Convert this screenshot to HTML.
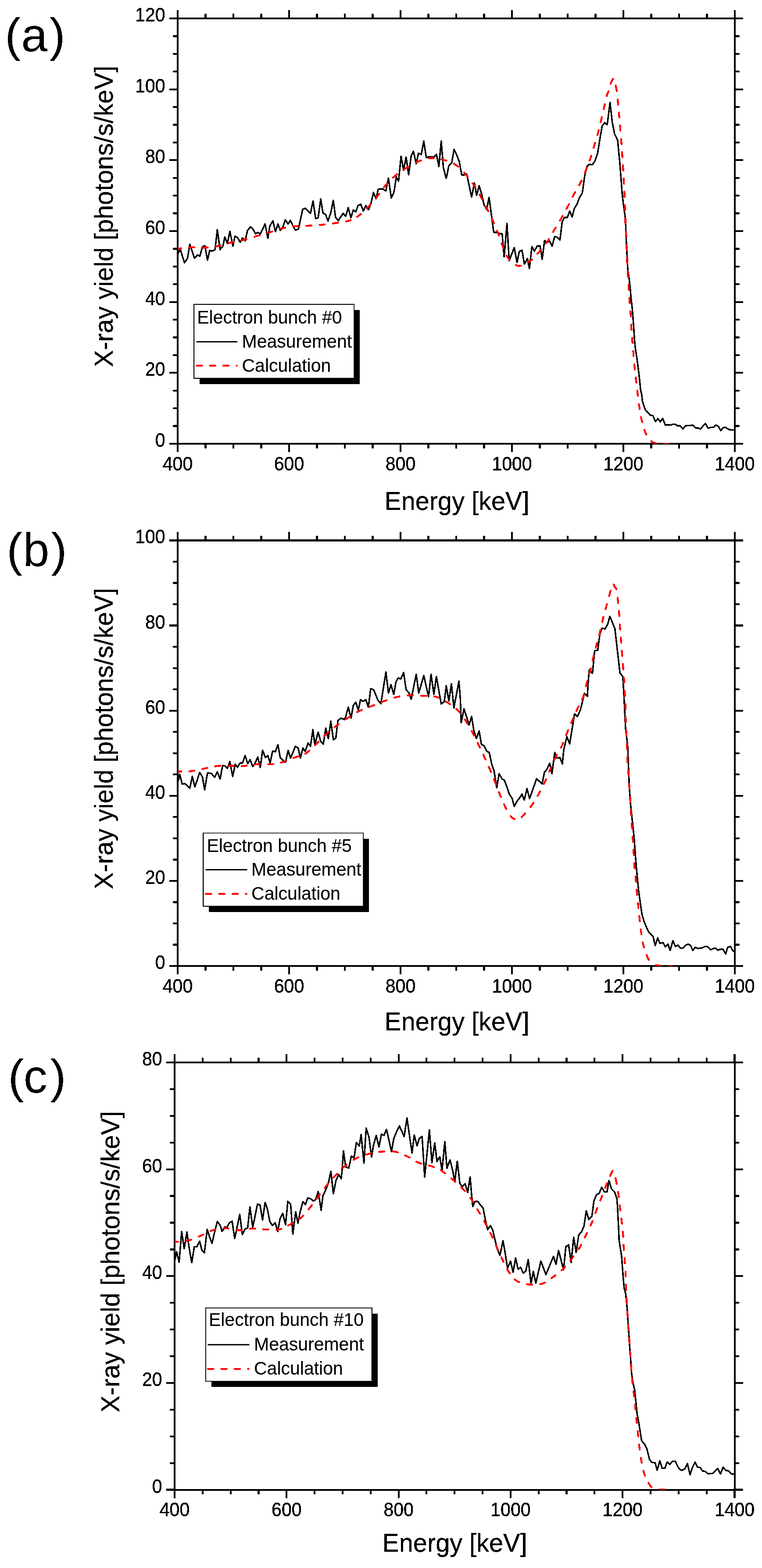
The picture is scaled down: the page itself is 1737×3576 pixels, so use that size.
<!DOCTYPE html>
<html><head><meta charset="utf-8"><title>X-ray yield spectra</title>
<style>html,body{margin:0;padding:0;background:#fff;}svg{display:block;}</style></head>
<body><svg width="1737" height="3576" viewBox="0 0 1737 3576">
<defs><filter id="bin" x="0" y="0" width="1737" height="3576" filterUnits="userSpaceOnUse"><feComponentTransfer><feFuncA type="discrete" tableValues="0 1"/></feComponentTransfer></filter></defs>
<rect width="1737" height="3576" fill="#fff"/>
<g filter="url(#bin)">
<path d="M405.0 1012.0v19M405.0 42.0v-19M468.5 1012.0v10.5M468.5 42.0v-10.5M532.0 1012.0v10.5M532.0 42.0v-10.5M595.5 1012.0v10.5M595.5 42.0v-10.5M659.0 1012.0v19M659.0 42.0v-19M722.5 1012.0v10.5M722.5 42.0v-10.5M786.0 1012.0v10.5M786.0 42.0v-10.5M849.5 1012.0v10.5M849.5 42.0v-10.5M913.0 1012.0v19M913.0 42.0v-19M976.5 1012.0v10.5M976.5 42.0v-10.5M1040.0 1012.0v10.5M1040.0 42.0v-10.5M1103.5 1012.0v10.5M1103.5 42.0v-10.5M1167.0 1012.0v19M1167.0 42.0v-19M1230.5 1012.0v10.5M1230.5 42.0v-10.5M1294.0 1012.0v10.5M1294.0 42.0v-10.5M1357.5 1012.0v10.5M1357.5 42.0v-10.5M1421.0 1012.0v19M1421.0 42.0v-19M1484.5 1012.0v10.5M1484.5 42.0v-10.5M1548.0 1012.0v10.5M1548.0 42.0v-10.5M1611.5 1012.0v10.5M1611.5 42.0v-10.5M1675.0 1012.0v19M1675.0 42.0v-19M405.0 1012.0h-19M1675.0 1012.0h19M405.0 971.6h-10.5M1675.0 971.6h10.5M405.0 931.2h-10.5M1675.0 931.2h10.5M405.0 890.8h-10.5M1675.0 890.8h10.5M405.0 850.3h-19M1675.0 850.3h19M405.0 809.9h-10.5M1675.0 809.9h10.5M405.0 769.5h-10.5M1675.0 769.5h10.5M405.0 729.1h-10.5M1675.0 729.1h10.5M405.0 688.7h-19M1675.0 688.7h19M405.0 648.2h-10.5M1675.0 648.2h10.5M405.0 607.8h-10.5M1675.0 607.8h10.5M405.0 567.4h-10.5M1675.0 567.4h10.5M405.0 527.0h-19M1675.0 527.0h19M405.0 486.6h-10.5M1675.0 486.6h10.5M405.0 446.2h-10.5M1675.0 446.2h10.5M405.0 405.8h-10.5M1675.0 405.8h10.5M405.0 365.3h-19M1675.0 365.3h19M405.0 324.9h-10.5M1675.0 324.9h10.5M405.0 284.5h-10.5M1675.0 284.5h10.5M405.0 244.1h-10.5M1675.0 244.1h10.5M405.0 203.7h-19M1675.0 203.7h19M405.0 163.2h-10.5M1675.0 163.2h10.5M405.0 122.8h-10.5M1675.0 122.8h10.5M405.0 82.4h-10.5M1675.0 82.4h10.5M405.0 42.0h-19M1675.0 42.0h19" stroke="#000" stroke-width="4" fill="none"/>
<rect x="405" y="42" width="1270" height="970" fill="none" stroke="#000" stroke-width="4"/>
<clipPath id="clipa"><rect x="405" y="42" width="1270" height="970"/></clipPath>
<g clip-path="url(#clipa)">
<polyline points="405.8,578.7 410.9,568.5 420.5,599.2 427.5,589.0 432.6,557.0 443.5,589.0 449.9,581.3 455.6,584.5 461.4,562.8 467.1,560.2 472.9,593.5 478.0,571.1 484.4,572.4 490.2,569.2 495.3,523.8 501.7,569.2 508.1,561.5 512.5,540.4 518.3,555.1 524.0,527.6 531.1,561.5 535.5,538.5 541.3,541.7 547.7,552.5 552.8,542.3 558.8,549.4 564.0,526.1 571.0,517.2 577.4,523.6 582.5,533.2 587.6,530.0 593.4,533.8 604.2,510.8 610.6,543.4 615.1,515.3 622.1,503.8 627.9,528.1 633.6,510.8 638.8,525.5 644.5,518.5 650.3,501.2 656.7,510.8 661.8,502.5 667.5,514.6 673.3,524.9 680.3,522.3 689.9,477.5 696.3,475.0 702.1,481.4 707.8,486.5 713.6,458.2 719.6,498.5 725.3,496.6 731.1,453.8 736.2,485.7 742.6,489.6 747.7,504.3 754.1,485.1 759.6,457.0 765.0,496.0 771.1,503.0 782.3,486.4 788.0,493.4 793.8,473.6 799.9,496.6 805.3,478.7 811.0,483.2 816.1,468.5 822.5,465.9 828.3,481.3 834.0,469.1 839.8,478.7 845.5,464.6 851.3,439.1 857.1,453.1 862.2,431.4 871.4,430.4 879.7,435.5 885.5,406.1 891.9,451.5 898.2,438.1 903.4,403.6 908.5,413.2 914.2,356.3 920.0,388.2 925.7,358.2 931.5,398.5 937.3,355.6 942.4,344.8 948.8,373.5 953.9,349.2 960.3,352.4 966.0,321.7 971.8,359.5 977.5,357.5 983.9,357.5 989.0,358.2 994.8,351.8 1000.5,379.9 1005.7,321.7 1010.8,383.1 1017.2,406.8 1023.2,378.0 1029.6,371.6 1035.0,341.0 1041.0,353.0 1047.0,369.0 1052.5,399.0 1058.4,399.0 1063.5,396.4 1065.4,404.1 1075.0,449.5 1081.4,417.5 1086.5,445.7 1092.3,423.3 1098.0,443.1 1103.1,466.1 1109.5,477.6 1114.9,450.2 1120.4,491.7 1125.5,530.1 1131.3,530.1 1138.9,532.6 1144.7,533.3 1149.2,585.7 1155.6,509.6 1160.7,594.6 1172.2,564.6 1178.6,598.5 1183.7,573.5 1190.1,571.0 1195.2,602.3 1202.3,589.5 1206.7,612.5 1212.5,562.7 1218.2,572.9 1224.6,560.7 1231.0,560.7 1235.9,591.4 1241.3,548.6 1246.4,552.4 1252.8,549.9 1258.5,561.4 1264.3,539.6 1270.0,540.9 1276.4,547.3 1281.5,506.4 1287.0,495.4 1293.4,496.0 1298.5,481.3 1304.3,494.8 1309.4,474.9 1315.2,466.0 1320.9,450.6 1327.3,440.4 1329.2,427.0 1333.1,399.5 1338.2,379.0 1343.9,374.6 1350.3,375.8 1356.1,367.5 1362.5,348.3 1368.2,312.5 1372.7,287.0 1378.5,279.9 1384.2,284.4 1390.6,233.2 1395.7,279.3 1400.8,304.9 1407.9,319.6 1413.0,372.6 1415.5,404.6 1418.1,440.4 1421.3,468.5 1426.0,500.0 1426.5,525.6 1428.2,559.8 1429.5,585.4 1430.7,611.0 1434.2,636.6 1436.7,658.0 1438.4,679.3 1441.0,700.7 1444.3,742.7 1446.5,776.9 1448.2,793.9 1451.6,815.3 1455.0,840.9 1457.6,862.3 1460.1,887.9 1462.8,900.0 1464.4,914.7 1470.5,933.9 1479.4,943.5 1482.0,946.7 1488.4,948.0 1494.1,961.7 1499.9,954.3 1505.0,962.0 1510.7,954.3 1516.8,969.6 1522.4,968.8 1528.8,969.6 1534.4,967.2 1540.0,968.0 1544.7,971.2 1550.3,970.8 1556.7,978.4 1562.3,971.2 1567.1,970.4 1572.7,970.4 1579.1,969.6 1585.5,976.0 1591.9,976.3 1596.7,978.4 1603.1,971.2 1607.9,965.6 1614.3,976.8 1620.7,974.4 1626.3,974.4 1631.9,969.6 1637.5,972.0 1643.1,982.4 1647.9,975.6 1653.5,974.4 1661.5,979.5 1667.8,980.8 1673.4,980.4" fill="none" stroke="#000" stroke-width="3.5" stroke-linejoin="round"/>
<path d="M405.8 567.2L409.2 566.8L412.9 566.3M431.3 564.2L431.5 564.1L437.1 563.8L442.3 563.7L443.1 563.8M461.8 564.7L462.7 564.7L467.8 564.7L472.8 564.4L473.5 564.3M491.6 562.2L492.3 562.1L497.2 561.2L502.1 560.1L503.1 559.8M520.9 554.7L521.8 554.4L526.6 553.2L531.3 552.1L532.6 551.9M550.7 548.4L554.7 547.4L559.7 546.1L562.3 545.3M580.0 540.0L580.6 539.8L585.7 538.3L590.6 536.8L591.6 536.6M609.3 531.4L610.0 531.2L614.8 529.7L619.8 528.2L620.8 527.8M638.8 521.9L639.6 521.7L644.5 520.4L649.5 519.3L650.2 519.2M668.5 516.5L669.2 516.4L674.2 515.9L679.2 515.5L680.2 515.5M698.5 514.9L699.3 514.8L704.4 514.6L709.4 514.4L710.2 514.3M728.7 513.1L729.3 513.0L734.3 512.6L739.3 512.1L740.4 511.9M759.0 509.6L759.7 509.5L764.7 508.7L769.8 508.0L770.6 507.9M788.9 505.1L789.8 504.9L794.4 503.6L798.7 502.1L799.4 501.9M813.9 494.6L814.3 494.3L818.1 491.7L821.9 488.8L822.9 487.9M836.5 474.9L836.8 474.5L840.4 470.8L844.0 467.0L844.7 466.2M856.9 451.6L857.4 451.0L860.6 447.0L863.7 442.9L864.3 442.2M875.2 427.2L875.6 426.6L878.8 422.8L882.1 419.0L882.8 418.3M895.8 405.1L896.3 404.6L900.2 401.3L904.2 398.1L905.0 397.4M920.8 386.5L921.3 386.2L925.7 383.4L930.3 380.6L931.2 380.0M948.2 370.5L949.1 370.1L953.9 368.0L958.7 366.2L959.6 365.9M977.6 361.0L978.4 360.8L983.3 360.4L988.1 360.3L989.1 360.4M1006.5 363.4L1007.1 363.5L1011.8 364.8L1016.5 366.2L1017.6 366.6M1034.5 373.4L1035.1 373.8L1039.4 376.4L1043.5 379.4L1044.4 380.1M1058.0 393.7L1058.5 394.2L1061.9 398.1L1065.3 402.0L1065.9 402.7M1077.4 417.9L1077.9 418.4L1080.7 422.7L1083.5 426.9L1084.0 427.6M1093.3 443.9L1093.6 444.4L1096.1 448.9L1098.5 453.4L1099.0 454.2M1107.5 470.9L1107.9 471.6L1110.2 476.1L1112.5 480.7L1112.9 481.6M1121.1 498.2L1121.5 498.9L1123.6 503.5L1125.6 508.1L1126.0 509.1M1133.0 526.2L1133.3 526.9L1135.1 531.6L1136.8 536.4L1137.2 537.2M1143.3 554.7L1143.5 555.4L1145.3 560.1L1147.1 564.8L1147.4 565.7M1154.4 582.8L1154.8 583.5L1157.5 587.6L1160.8 591.6L1161.5 592.4M1175.8 604.4L1177.1 605.1L1181.4 606.4L1185.7 606.4L1187.2 606.0M1203.3 598.4L1203.9 598.0L1208.0 595.3L1211.9 592.4L1212.6 591.7M1225.3 578.5L1225.8 577.9L1229.1 574.2L1232.4 570.4L1233.0 569.7M1244.5 555.2L1245.0 554.6L1247.9 550.5L1250.7 546.2L1251.3 545.3M1260.7 529.1L1261.2 528.2L1263.6 524.0L1266.0 520.2L1266.8 518.8M1276.4 503.0L1277.1 501.9L1279.7 497.2L1282.4 492.5M1291.3 476.3L1291.4 476.1L1294.1 471.1L1296.6 466.3L1296.9 465.7M1305.4 448.7L1305.8 448.1L1308.1 443.6L1310.6 439.2L1311.0 438.4M1320.2 422.4L1320.5 421.9L1322.8 417.4L1325.1 412.6L1325.6 411.6M1333.3 393.7L1333.7 392.8L1335.6 388.0L1337.5 383.4L1337.8 382.6M1344.1 366.2L1344.3 365.7L1345.9 361.1L1347.4 356.4L1347.7 355.4M1353.1 337.4L1353.4 336.6L1354.8 331.7L1356.3 326.8L1356.6 325.9M1361.8 307.9L1362.0 307.2L1363.4 302.3L1364.7 297.4L1364.9 296.6M1369.2 278.6L1369.4 277.8L1370.5 272.9L1371.7 267.9L1371.9 267.1M1376.1 249.1L1376.4 248.1L1377.4 243.5L1378.5 239.0L1378.7 237.7M1382.9 219.4L1383.0 219.0L1383.8 216.4L1384.4 214.5L1385.1 213.0L1385.7 211.5L1386.3 210.0L1386.9 208.3M1391.8 191.0L1392.2 190.2L1392.8 188.6L1393.4 187.2L1393.9 186.1L1394.5 185.0L1395.0 184.0L1395.5 183.1L1395.9 182.3L1396.3 181.6L1396.7 181.1L1397.1 180.5L1397.5 180.0L1397.5 180.0M1403.5 195.0L1403.9 197.1L1404.3 199.1L1404.8 201.2L1405.2 203.3L1405.6 205.6L1406.0 207.8M1408.0 227.0L1408.1 227.5L1408.3 229.9L1408.5 232.2L1408.8 234.6L1409.0 237.1L1409.2 238.6M1410.8 256.6L1410.9 257.8L1411.3 262.0L1411.7 266.6L1411.8 268.0M1413.4 286.5L1413.5 287.2L1413.9 292.3L1414.3 297.3L1414.4 298.4M1415.8 316.9L1415.8 317.5L1416.2 322.5L1416.6 327.5L1416.7 328.6M1418.0 346.8L1418.1 347.4L1418.4 352.4L1418.7 357.5L1418.8 358.5M1420.0 377.0L1420.0 377.8L1420.3 382.9L1420.6 387.9L1420.6 388.9M1421.6 407.2L1421.6 407.9L1421.9 412.9L1422.2 417.6L1422.2 418.9M1423.3 437.1L1423.5 443.0L1423.7 448.9M1424.3 467.6L1424.4 473.0L1424.6 479.1M1425.2 497.3L1425.4 503.1L1425.7 509.3M1426.9 528.0L1427.0 529.2L1427.3 534.0L1427.6 539.2L1427.6 540.3M1428.4 559.0L1428.4 559.9L1428.6 565.0L1428.8 570.1L1428.8 571.0M1429.3 589.2L1429.3 590.0L1429.5 595.0L1429.7 600.0L1429.8 601.0M1430.8 619.2L1430.9 620.0L1431.2 625.0L1431.5 630.0L1431.6 630.9M1432.9 649.4L1433.0 650.0L1433.3 655.0L1433.6 660.1L1433.6 660.9M1434.6 679.3L1434.7 680.4L1435.0 685.0L1435.3 689.1L1435.5 691.0M1437.2 709.7L1437.4 714.0L1437.8 720.3L1437.9 721.7M1438.9 740.4L1439.2 746.1L1439.5 751.5L1439.6 752.4M1440.9 770.6L1440.9 771.1L1441.3 776.0L1441.7 781.0L1441.8 782.3M1443.4 800.5L1443.5 800.9L1443.9 805.9L1444.3 811.0L1444.4 812.5M1446.0 830.9L1446.0 831.5L1446.5 836.6L1447.0 841.6L1447.2 842.8M1449.3 861.0L1449.3 861.5L1449.9 866.5L1450.5 871.5L1450.6 872.6M1452.7 891.0L1452.7 891.4L1453.3 896.4L1453.9 901.5L1454.1 902.9M1456.5 921.8L1456.6 921.9L1457.3 927.0L1458.1 932.0L1458.3 933.4M1461.3 951.4L1461.4 952.1L1462.5 957.0L1463.7 962.0L1463.8 962.6M1468.9 980.4L1469.4 981.8L1471.0 986.0L1472.7 989.8L1473.4 991.2M1484.5 1006.2L1486.1 1007.4L1488.2 1008.6L1490.4 1009.5L1492.7 1010.3L1495.0 1011.0L1495.1 1011.0M1513.5 1012.1L1516.7 1012.1L1520.4 1012.1L1523.9 1012.0L1525.3 1012.0" fill="none" stroke="#f00" stroke-width="4.3" stroke-linecap="round" stroke-linejoin="round"/>
</g>
<g font-size="41" stroke="#000" stroke-width="0.4" font-family="'Liberation Sans', Arial, sans-serif"><text transform="translate(405.0,1072.6) scale(1,1.07)" text-anchor="middle">400</text><text transform="translate(659.0,1072.6) scale(1,1.07)" text-anchor="middle">600</text><text transform="translate(913.0,1072.6) scale(1,1.07)" text-anchor="middle">800</text><text transform="translate(1167.0,1072.6) scale(1,1.07)" text-anchor="middle">1000</text><text transform="translate(1421.0,1072.6) scale(1,1.07)" text-anchor="middle">1200</text><text transform="translate(1675.0,1072.6) scale(1,1.07)" text-anchor="middle">1400</text><text transform="translate(376.6,1019.0) scale(1,1.07)" text-anchor="end">0</text><text transform="translate(376.6,857.3) scale(1,1.07)" text-anchor="end">20</text><text transform="translate(376.6,695.7) scale(1,1.07)" text-anchor="end">40</text><text transform="translate(376.6,534.0) scale(1,1.07)" text-anchor="end">60</text><text transform="translate(376.6,372.3) scale(1,1.07)" text-anchor="end">80</text><text transform="translate(376.6,210.7) scale(1,1.07)" text-anchor="end">100</text><text transform="translate(376.6,49.0) scale(1,1.07)" text-anchor="end">120</text></g>
<text transform="translate(257.1,837.0) rotate(-90) scale(1,1.03)" font-size="57.8" stroke="#000" stroke-width="0.3" font-family="'Liberation Sans', Arial, sans-serif">X-ray yield [photons/s/keV]</text>
<text transform="translate(876.2,1162.9) scale(1,1.03)" font-size="57.7" stroke="#000" stroke-width="0.3" font-family="'Liberation Sans', Arial, sans-serif">Energy [keV]</text>
<g font-size="108" font-family="'Liberation Sans', Arial, sans-serif"><text x="11.2" y="117.3">(</text><text x="48.2" y="117.3">a</text><text x="112.7" y="117.3">)</text></g>
<rect x="455.2" y="707.2" width="365.1" height="168.5" fill="#000"/>
<rect x="442.2" y="694.2" width="365.1" height="168.5" fill="#fff" stroke="#000" stroke-width="2"/>
<g font-size="41" stroke="#000" stroke-width="0.15" font-family="'Liberation Sans', Arial, sans-serif"><text transform="translate(449.2,738.0) scale(1,1.03)">Electron bunch #0</text><text transform="translate(551.5,793.0) scale(1,1.03)">Measurement</text><text transform="translate(551.5,848.3) scale(1,1.03)">Calculation</text></g>
<path d="M447.6 779.5H541.3" stroke="#000" stroke-width="3"/>
<path d="M448.2 833.9H539.6" stroke="#f00" stroke-width="4.3" stroke-linecap="round" stroke-dasharray="12.4 18"/>
<path d="M405.0 2203.0v19M405.0 1232.5v-19M468.5 2203.0v10.5M468.5 1232.5v-10.5M532.0 2203.0v10.5M532.0 1232.5v-10.5M595.5 2203.0v10.5M595.5 1232.5v-10.5M659.0 2203.0v19M659.0 1232.5v-19M722.5 2203.0v10.5M722.5 1232.5v-10.5M786.0 2203.0v10.5M786.0 1232.5v-10.5M849.5 2203.0v10.5M849.5 1232.5v-10.5M913.0 2203.0v19M913.0 1232.5v-19M976.5 2203.0v10.5M976.5 1232.5v-10.5M1040.0 2203.0v10.5M1040.0 1232.5v-10.5M1103.5 2203.0v10.5M1103.5 1232.5v-10.5M1167.0 2203.0v19M1167.0 1232.5v-19M1230.5 2203.0v10.5M1230.5 1232.5v-10.5M1294.0 2203.0v10.5M1294.0 1232.5v-10.5M1357.5 2203.0v10.5M1357.5 1232.5v-10.5M1421.0 2203.0v19M1421.0 1232.5v-19M1484.5 2203.0v10.5M1484.5 1232.5v-10.5M1548.0 2203.0v10.5M1548.0 1232.5v-10.5M1611.5 2203.0v10.5M1611.5 1232.5v-10.5M1675.0 2203.0v19M1675.0 1232.5v-19M405.0 2203.0h-19M1675.0 2203.0h19M405.0 2154.5h-10.5M1675.0 2154.5h10.5M405.0 2105.9h-10.5M1675.0 2105.9h10.5M405.0 2057.4h-10.5M1675.0 2057.4h10.5M405.0 2008.9h-19M1675.0 2008.9h19M405.0 1960.4h-10.5M1675.0 1960.4h10.5M405.0 1911.8h-10.5M1675.0 1911.8h10.5M405.0 1863.3h-10.5M1675.0 1863.3h10.5M405.0 1814.8h-19M1675.0 1814.8h19M405.0 1766.3h-10.5M1675.0 1766.3h10.5M405.0 1717.8h-10.5M1675.0 1717.8h10.5M405.0 1669.2h-10.5M1675.0 1669.2h10.5M405.0 1620.7h-19M1675.0 1620.7h19M405.0 1572.2h-10.5M1675.0 1572.2h10.5M405.0 1523.7h-10.5M1675.0 1523.7h10.5M405.0 1475.1h-10.5M1675.0 1475.1h10.5M405.0 1426.6h-19M1675.0 1426.6h19M405.0 1378.1h-10.5M1675.0 1378.1h10.5M405.0 1329.5h-10.5M1675.0 1329.5h10.5M405.0 1281.0h-10.5M1675.0 1281.0h10.5M405.0 1232.5h-19M1675.0 1232.5h19" stroke="#000" stroke-width="4" fill="none"/>
<rect x="405" y="1232.5" width="1270" height="970.5" fill="none" stroke="#000" stroke-width="4"/>
<clipPath id="clipb"><rect x="405" y="1232.5" width="1270" height="970.5"/></clipPath>
<g clip-path="url(#clipb)">
<polyline points="406.0,1781.8 409.6,1765.9 415.3,1788.2 420.5,1787.0 425.6,1790.2 432.6,1797.8 438.4,1770.3 444.1,1794.6 449.9,1778.0 455.0,1761.4 461.4,1771.6 466.5,1801.7 472.9,1762.7 481.8,1763.9 489.5,1772.9 495.3,1760.1 501.7,1776.7 507.4,1746.0 512.5,1746.7 518.3,1752.4 524.0,1737.1 530.4,1771.0 536.2,1742.8 541.3,1749.9 547.1,1740.3 552.8,1740.3 558.8,1723.1 564.6,1741.7 570.3,1732.7 576.1,1748.1 581.2,1741.0 587.6,1726.3 593.4,1750.0 598.5,1711.0 604.9,1727.6 610.6,1723.1 615.7,1739.7 621.5,1712.9 627.9,1714.2 633.6,1698.2 638.8,1728.2 645.2,1734.6 650.9,1738.5 656.7,1711.6 662.4,1728.9 673.3,1702.0 679.7,1705.9 684.8,1728.9 690.5,1705.9 695.7,1713.5 702.1,1694.3 707.8,1702.0 713.2,1664.0 717.7,1698.6 725.3,1669.8 731.1,1690.9 736.9,1697.3 742.6,1660.8 748.4,1684.5 754.1,1644.9 759.9,1687.1 765.6,1683.2 770.1,1643.6 777.1,1637.8 785.4,1641.0 788.0,1634.6 793.8,1612.9 800.2,1637.8 805.3,1609.1 811.0,1601.4 816.8,1619.3 821.9,1595.6 827.6,1599.5 834.0,1595.6 839.8,1612.9 844.9,1570.7 851.9,1573.2 861.5,1596.9 868.2,1604.9 879.7,1532.6 885.5,1580.6 891.2,1561.4 897.6,1583.8 902.7,1555.0 907.8,1546.0 913.6,1548.6 920.0,1533.9 925.7,1572.9 932.1,1579.9 937.3,1594.6 948.8,1537.7 954.5,1580.6 966.0,1540.9 976.9,1588.9 982.6,1537.7 989.0,1583.1 994.8,1542.8 1005.7,1605.5 1012.7,1600.4 1017.2,1563.9 1023.2,1598.8 1029.0,1559.2 1034.7,1614.2 1046.2,1553.4 1049.4,1595.0 1051.3,1648.1 1057.7,1616.7 1063.5,1634.6 1069.2,1653.2 1075.0,1633.4 1080.1,1666.0 1085.9,1684.5 1092.3,1667.2 1097.4,1697.9 1103.8,1701.1 1109.5,1713.3 1115.3,1715.8 1121.0,1743.3 1126.1,1757.4 1132.4,1796.7 1137.6,1764.8 1144.8,1776.8 1149.6,1779.2 1156.0,1795.9 1160.8,1811.1 1167.1,1819.9 1172.3,1839.1 1177.5,1828.7 1183.9,1820.7 1189.9,1811.1 1195.1,1824.7 1201.3,1798.5 1207.1,1821.5 1223.1,1776.1 1235.9,1787.6 1241.0,1761.4 1246.7,1754.3 1253.1,1740.9 1258.2,1764.6 1264.6,1716.0 1269.1,1728.8 1276.1,1727.5 1281.9,1742.2 1285.1,1710.0 1292.2,1679.8 1298.6,1696.4 1306.3,1649.0 1309.5,1627.9 1315.9,1634.3 1322.9,1619.6 1332.5,1581.1 1338.9,1588.2 1341.5,1546.5 1343.4,1527.3 1350.5,1535.6 1355.6,1483.8 1362.6,1483.1 1367.1,1447.9 1372.2,1432.5 1379.3,1434.4 1385.0,1424.2 1390.2,1405.6 1401.7,1433.8 1413.2,1535.0 1419.6,1542.7 1422.2,1585.0 1426.0,1661.8 1430.7,1700.0 1432.8,1751.2 1434.5,1793.9 1437.1,1832.4 1441.3,1870.8 1445.6,1912.0 1449.2,1961.2 1452.2,1995.4 1455.6,2029.6 1459.0,2055.2 1463.3,2085.1 1468.4,2102.1 1474.4,2116.7 1479.6,2126.8 1488.5,2135.2 1493.6,2156.4 1499.2,2139.1 1504.2,2151.4 1511.5,2149.7 1516.5,2159.2 1522.7,2153.1 1527.7,2167.6 1533.9,2145.3 1539.5,2158.7 1545.6,2155.3 1551.2,2162.6 1556.8,2162.6 1563.5,2155.3 1568.5,2153.1 1574.1,2155.9 1579.2,2167.6 1584.8,2160.4 1591.0,2163.1 1601.1,2161.8 1607.3,2158.3 1613.4,2159.1 1620.0,2166.2 1625.7,2163.5 1631.0,2162.2 1636.7,2167.1 1642.0,2164.4 1648.2,2164.9 1654.3,2175.8 1658.7,2160.5 1665.3,2158.3 1670.6,2168.8 1673.2,2168.8" fill="none" stroke="#000" stroke-width="3.5" stroke-linejoin="round"/>
<path d="M405.8 1759.6L409.2 1759.5L413.0 1759.5M431.5 1758.9L431.8 1758.9L437.3 1758.4L442.4 1757.7L443.2 1757.6M461.3 1753.8L461.9 1753.7L466.8 1752.7L471.6 1751.7L472.5 1751.5M490.4 1747.7L491.2 1747.6L496.2 1746.9L501.1 1746.5L502.1 1746.5M520.6 1746.3L521.1 1746.3L526.0 1746.3L530.7 1746.4L532.3 1746.5M550.8 1747.2L554.1 1747.1L559.2 1746.6L562.5 1746.2M580.5 1743.5L581.0 1743.4L586.3 1742.9L591.6 1742.8L592.5 1742.8M611.3 1743.2L612.0 1743.2L617.0 1742.9L621.9 1742.5L622.7 1742.4M640.4 1739.2L641.0 1739.1L645.8 1737.8L650.6 1736.3L651.5 1736.0M668.8 1728.9L669.6 1728.6L674.2 1726.7L678.4 1725.3L679.6 1725.0M695.7 1719.1L700.1 1716.1L704.7 1712.3M718.0 1699.8L722.0 1695.9L726.3 1691.5M739.4 1678.4L743.5 1674.5L748.0 1670.5M762.7 1658.4L763.4 1657.7L767.3 1654.8L771.4 1651.8L772.3 1651.2M787.9 1640.4L788.6 1640.0L792.9 1637.2L797.2 1634.4L798.0 1633.9M813.8 1624.3L814.4 1623.9L819.0 1621.6L823.6 1619.4L824.6 1619.0M842.3 1612.2L843.1 1611.9L847.9 1610.1L852.5 1608.2L853.2 1607.9M870.2 1601.1L870.8 1600.8L875.5 1599.1L880.2 1597.4L881.2 1597.0M898.9 1591.0L899.7 1590.8L904.6 1589.5L909.6 1588.5L910.6 1588.3M929.2 1586.0L930.0 1586.0L935.1 1585.7L940.2 1585.6L941.2 1585.6M959.9 1586.6L960.7 1586.6L965.8 1587.0L970.8 1587.2L971.7 1587.2M989.6 1588.4L990.6 1588.5L995.2 1589.5L999.6 1591.0L1000.7 1591.4M1016.3 1599.9L1019.7 1602.0L1023.9 1604.7L1025.7 1606.0M1040.1 1616.8L1040.3 1617.0L1044.0 1620.6L1047.5 1624.4L1048.2 1625.2M1059.5 1640.8L1060.0 1641.5L1062.8 1645.9L1065.6 1650.2L1066.0 1650.9M1075.1 1667.0L1075.4 1667.5L1077.8 1672.0L1080.2 1676.5L1080.6 1677.4M1088.8 1694.3L1089.2 1695.0L1091.4 1699.6L1093.5 1704.0L1093.9 1704.8M1101.8 1721.3L1101.9 1721.5L1104.0 1726.0L1106.1 1730.7L1106.8 1732.2M1114.4 1749.3L1114.7 1750.0L1116.8 1754.8L1118.8 1759.5L1119.2 1760.4M1126.2 1777.5L1126.5 1778.3L1128.4 1783.0L1130.3 1787.8L1130.6 1788.6M1137.4 1806.4L1137.7 1807.2L1139.6 1812.0L1141.5 1816.7L1141.9 1817.5M1149.0 1834.3L1149.4 1835.3L1151.4 1839.5L1153.4 1843.5L1154.2 1845.1M1163.8 1861.5L1164.7 1862.5L1166.2 1864.1L1167.7 1865.2L1169.1 1866.1L1170.5 1866.8L1172.0 1867.5L1173.3 1868.1M1188.9 1863.8L1190.2 1862.5L1192.7 1860.0L1195.6 1856.9L1197.0 1855.3M1209.1 1840.6L1209.3 1840.3L1212.5 1836.0L1215.4 1831.8L1216.0 1830.8M1225.4 1815.2L1225.7 1814.7L1228.2 1810.3L1230.7 1805.8L1231.1 1804.9M1239.7 1788.2L1240.1 1787.4L1242.3 1782.8L1244.4 1778.2L1244.8 1777.4M1252.1 1760.4L1252.4 1759.6L1254.4 1755.0L1256.4 1750.3L1256.8 1749.3M1264.1 1732.3L1264.4 1731.6L1266.5 1727.2L1268.6 1723.1L1269.5 1721.6M1278.8 1705.1L1279.6 1703.5L1281.8 1698.5L1283.6 1694.1M1290.5 1676.4L1290.7 1676.0L1292.8 1670.8L1294.8 1666.0L1295.0 1665.5M1302.1 1649.0L1302.4 1648.4L1304.3 1643.9L1306.2 1639.3L1306.6 1638.4M1313.8 1621.6L1314.1 1621.0L1316.2 1616.4L1318.4 1611.9L1318.9 1611.0M1327.2 1594.8L1327.5 1594.2L1329.4 1589.5L1331.0 1584.7L1331.3 1583.5M1335.6 1565.0L1335.8 1564.4L1337.0 1559.4L1338.4 1554.5L1338.7 1553.4M1343.9 1535.7L1344.1 1535.1L1345.4 1530.2L1346.6 1525.3L1346.8 1524.3M1350.7 1506.2L1350.9 1505.7L1352.0 1500.8L1353.2 1496.0L1353.4 1495.0M1358.0 1477.4L1358.2 1476.7L1359.5 1471.9L1360.8 1467.0L1361.1 1466.0M1366.0 1448.2L1366.2 1447.4L1367.5 1442.5L1368.7 1437.5L1368.9 1436.6M1372.8 1418.5L1372.9 1417.6L1374.1 1412.7L1375.3 1407.8L1375.6 1406.8M1380.5 1389.0L1380.7 1388.4L1382.0 1383.5L1383.4 1378.5L1383.6 1377.6M1388.5 1359.5L1388.8 1358.5L1390.0 1354.0L1391.1 1349.4L1391.6 1347.4M1398.9 1332.9L1399.8 1334.9L1400.6 1336.9L1401.5 1338.5L1402.3 1339.6L1403.1 1340.4L1403.9 1341.3L1404.7 1342.3L1405.4 1343.8L1405.4 1344.0M1408.0 1363.3L1408.2 1365.1L1408.6 1369.4L1409.0 1373.7L1409.2 1375.2M1410.9 1393.4L1411.2 1397.0L1411.6 1402.2L1411.8 1405.3M1412.8 1423.8L1412.9 1424.3L1413.2 1429.7L1413.6 1434.9L1413.6 1435.8M1415.0 1454.0L1415.1 1454.8L1415.5 1459.8L1415.9 1464.8L1416.0 1465.7M1417.5 1484.1L1417.6 1484.9L1418.0 1489.9L1418.4 1494.9L1418.5 1495.8M1419.9 1514.5L1419.9 1515.2L1420.3 1520.3L1420.7 1525.4L1420.8 1526.5M1422.1 1545.2L1422.2 1545.9L1422.5 1551.0L1422.8 1556.0L1422.9 1556.9M1423.9 1575.1L1423.9 1575.8L1424.2 1580.8L1424.5 1585.8L1424.5 1586.9M1425.5 1605.3L1425.6 1606.2L1425.8 1611.3L1425.9 1616.3L1426.0 1617.1M1426.2 1635.6L1426.3 1636.4L1426.4 1641.4L1426.6 1646.4L1426.7 1647.3M1427.7 1665.6L1427.7 1666.5L1428.0 1671.5L1428.3 1676.6L1428.3 1677.5M1429.2 1696.0L1429.2 1696.9L1429.4 1702.0L1429.6 1707.1L1429.6 1708.0M1430.0 1726.8L1430.0 1727.5L1430.2 1732.5L1430.5 1737.5L1430.6 1738.5M1432.0 1756.7L1432.0 1757.3L1432.4 1762.3L1432.8 1767.4L1432.8 1768.7M1434.1 1787.4L1434.1 1788.0L1434.5 1793.1L1434.9 1798.2L1434.9 1799.1M1436.3 1817.5L1436.4 1818.8L1436.7 1823.8L1437.0 1828.7L1437.0 1829.3M1438.1 1847.5L1438.1 1848.0L1438.4 1852.9L1438.7 1857.9L1438.8 1859.5M1440.1 1877.9L1440.1 1878.5L1440.5 1883.6L1440.9 1888.6L1440.9 1889.9M1442.3 1908.3L1442.3 1908.5L1442.6 1913.5L1442.9 1918.6L1443.0 1920.1M1444.1 1938.5L1444.2 1939.4L1444.5 1944.5L1444.8 1949.6L1444.8 1950.3M1445.8 1968.5L1445.8 1969.5L1446.2 1974.5L1446.6 1979.5L1446.7 1980.4M1448.6 1999.1L1448.7 1999.8L1449.2 2004.8L1449.7 2009.8L1449.8 2011.0M1451.3 2029.2L1451.3 2029.8L1451.8 2034.8L1452.3 2039.8L1452.4 2040.9M1454.3 2059.6L1454.3 2060.0L1454.8 2065.0L1455.3 2070.0L1455.4 2071.3M1457.2 2089.4L1457.3 2089.8L1457.8 2094.8L1458.3 2099.8L1458.5 2101.1M1460.6 2119.5L1460.7 2120.0L1461.4 2125.0L1462.1 2130.0L1462.3 2131.1M1465.2 2149.1L1465.4 2150.1L1466.5 2155.0L1467.8 2159.9L1468.0 2160.5M1473.8 2177.8L1474.3 2179.2L1476.0 2183.0L1477.6 2186.2L1479.1 2189.0L1479.2 2189.1M1495.0 2201.2L1496.6 2201.5L1500.0 2202.0L1504.7 2202.4L1507.4 2202.5M1525.9 2202.9L1528.3 2202.9L1532.0 2203.0" fill="none" stroke="#f00" stroke-width="4.3" stroke-linecap="round" stroke-linejoin="round"/>
</g>
<g font-size="41" stroke="#000" stroke-width="0.4" font-family="'Liberation Sans', Arial, sans-serif"><text transform="translate(405.0,2263.6) scale(1,1.07)" text-anchor="middle">400</text><text transform="translate(659.0,2263.6) scale(1,1.07)" text-anchor="middle">600</text><text transform="translate(913.0,2263.6) scale(1,1.07)" text-anchor="middle">800</text><text transform="translate(1167.0,2263.6) scale(1,1.07)" text-anchor="middle">1000</text><text transform="translate(1421.0,2263.6) scale(1,1.07)" text-anchor="middle">1200</text><text transform="translate(1675.0,2263.6) scale(1,1.07)" text-anchor="middle">1400</text><text transform="translate(376.6,2210.0) scale(1,1.07)" text-anchor="end">0</text><text transform="translate(376.6,2015.9) scale(1,1.07)" text-anchor="end">20</text><text transform="translate(376.6,1821.8) scale(1,1.07)" text-anchor="end">40</text><text transform="translate(376.6,1627.7) scale(1,1.07)" text-anchor="end">60</text><text transform="translate(376.6,1433.6) scale(1,1.07)" text-anchor="end">80</text><text transform="translate(376.6,1239.5) scale(1,1.07)" text-anchor="end">100</text></g>
<text transform="translate(257.1,2028.0) rotate(-90) scale(1,1.03)" font-size="57.8" stroke="#000" stroke-width="0.3" font-family="'Liberation Sans', Arial, sans-serif">X-ray yield [photons/s/keV]</text>
<text transform="translate(876.2,2349.9) scale(1,1.03)" font-size="57.7" stroke="#000" stroke-width="0.3" font-family="'Liberation Sans', Arial, sans-serif">Energy [keV]</text>
<g font-size="108" font-family="'Liberation Sans', Arial, sans-serif"><text x="15.2" y="1290.5">(</text><text x="52.2" y="1290.5">b</text><text x="116.5" y="1290.5">)</text></g>
<rect x="476.4" y="1912.6" width="364.9" height="167.2" fill="#000"/>
<rect x="463.4" y="1899.6" width="364.9" height="167.2" fill="#fff" stroke="#000" stroke-width="2"/>
<g font-size="41" stroke="#000" stroke-width="0.15" font-family="'Liberation Sans', Arial, sans-serif"><text transform="translate(471.4,1942.8) scale(1,1.03)">Electron bunch #5</text><text transform="translate(573.1,1997.1) scale(1,1.03)">Measurement</text><text transform="translate(573.1,2051.5) scale(1,1.03)">Calculation</text></g>
<path d="M468.5 1983.4H563.5" stroke="#000" stroke-width="3"/>
<path d="M469.1 2038.7H561.8" stroke="#f00" stroke-width="4.3" stroke-linecap="round" stroke-dasharray="12.4 18"/>
<path d="M398.0 3397.6v19M398.0 2423.0v-19M461.8 3397.6v10.5M461.8 2423.0v-10.5M525.6 3397.6v10.5M525.6 2423.0v-10.5M589.5 3397.6v10.5M589.5 2423.0v-10.5M653.3 3397.6v19M653.3 2423.0v-19M717.1 3397.6v10.5M717.1 2423.0v-10.5M781.0 3397.6v10.5M781.0 2423.0v-10.5M844.8 3397.6v10.5M844.8 2423.0v-10.5M908.6 3397.6v19M908.6 2423.0v-19M972.4 3397.6v10.5M972.4 2423.0v-10.5M1036.2 3397.6v10.5M1036.2 2423.0v-10.5M1100.1 3397.6v10.5M1100.1 2423.0v-10.5M1163.9 3397.6v19M1163.9 2423.0v-19M1227.7 3397.6v10.5M1227.7 2423.0v-10.5M1291.5 3397.6v10.5M1291.5 2423.0v-10.5M1355.4 3397.6v10.5M1355.4 2423.0v-10.5M1419.2 3397.6v19M1419.2 2423.0v-19M1483.0 3397.6v10.5M1483.0 2423.0v-10.5M1546.8 3397.6v10.5M1546.8 2423.0v-10.5M1610.7 3397.6v10.5M1610.7 2423.0v-10.5M1674.5 3397.6v19M1674.5 2423.0v-19M398.0 3397.6h-19M1674.5 3397.6h19M398.0 3336.7h-10.5M1674.5 3336.7h10.5M398.0 3275.8h-10.5M1674.5 3275.8h10.5M398.0 3214.9h-10.5M1674.5 3214.9h10.5M398.0 3153.9h-19M1674.5 3153.9h19M398.0 3093.0h-10.5M1674.5 3093.0h10.5M398.0 3032.1h-10.5M1674.5 3032.1h10.5M398.0 2971.2h-10.5M1674.5 2971.2h10.5M398.0 2910.3h-19M1674.5 2910.3h19M398.0 2849.4h-10.5M1674.5 2849.4h10.5M398.0 2788.5h-10.5M1674.5 2788.5h10.5M398.0 2727.6h-10.5M1674.5 2727.6h10.5M398.0 2666.7h-19M1674.5 2666.7h19M398.0 2605.7h-10.5M1674.5 2605.7h10.5M398.0 2544.8h-10.5M1674.5 2544.8h10.5M398.0 2483.9h-10.5M1674.5 2483.9h10.5M398.0 2423.0h-19M1674.5 2423.0h19" stroke="#000" stroke-width="4" fill="none"/>
<rect x="398" y="2423" width="1276.5" height="974.5999999999999" fill="none" stroke="#000" stroke-width="4"/>
<clipPath id="clipc"><rect x="398" y="2423" width="1276.5" height="974.5999999999999"/></clipPath>
<g clip-path="url(#clipc)">
<polyline points="398.8,2872.8 402.6,2854.9 408.3,2878.5 414.1,2808.8 419.9,2847.8 426.0,2810.1 431.4,2847.2 437.1,2879.8 442.9,2843.4 448.6,2843.4 455.0,2830.6 460.1,2851.0 465.9,2857.4 472.3,2803.7 478.0,2821.6 483.2,2835.7 489.5,2808.8 495.3,2785.8 501.7,2794.1 506.2,2808.2 513.2,2798.0 517.0,2799.9 522.8,2789.0 529.2,2785.2 534.9,2824.8 540.7,2797.3 546.5,2769.8 552.5,2815.8 558.2,2803.6 564.6,2800.4 569.7,2752.5 576.1,2799.2 587.0,2746.1 592.8,2748.0 598.5,2782.5 604.3,2742.3 609.4,2757.0 615.1,2785.7 620.9,2794.7 627.3,2788.3 633.0,2808.7 638.2,2780.0 644.5,2767.2 650.9,2793.4 656.1,2739.7 662.5,2746.7 667.6,2814.5 674.0,2763.4 679.1,2789.6 684.2,2764.0 690.6,2740.3 696.3,2747.4 701.5,2732.0 708.1,2733.9 714.5,2739.0 719.6,2735.8 725.4,2717.3 732.0,2760.0 736.2,2726.2 741.4,2716.0 747.1,2701.9 749.0,2695.5 754.2,2671.3 759.9,2722.4 765.7,2693.0 772.1,2678.3 777.8,2687.9 779.7,2670.0 782.9,2624.6 788.0,2661.0 795.1,2664.2 800.8,2636.7 807.2,2640.6 812.3,2605.4 818.7,2613.7 823.2,2587.5 829.6,2652.7 834.7,2572.8 841.1,2593.2 846.9,2638.6 851.3,2612.4 857.7,2589.4 863.8,2615.7 869.5,2586.3 875.3,2589.5 881.0,2575.4 892.5,2626.5 897.6,2596.5 904.0,2581.2 910.4,2567.7 921.3,2592.0 927.7,2549.8 939.2,2629.7 944.3,2588.8 950.7,2613.1 955.8,2596.5 962.2,2592.0 968.0,2684.1 978.8,2576.7 984.6,2651.5 991.0,2606.7 996.1,2648.9 1002.5,2638.1 1007.6,2669.4 1014.0,2603.5 1018.8,2664.2 1025.8,2645.6 1030.9,2665.4 1036.7,2694.2 1042.4,2648.2 1048.2,2698.7 1053.9,2706.4 1060.3,2699.3 1066.1,2719.8 1071.6,2684.0 1075.7,2731.9 1077.6,2751.8 1082.7,2740.3 1089.7,2740.3 1094.8,2747.9 1101.2,2755.0 1107.0,2784.4 1111.5,2804.2 1117.9,2795.2 1123.0,2804.8 1128.1,2826.6 1133.2,2847.7 1139.6,2863.0 1146.6,2829.8 1151.7,2858.5 1156.9,2892.4 1163.8,2876.1 1169.6,2901.7 1175.3,2869.1 1181.1,2894.6 1186.9,2890.2 1192.6,2903.6 1198.4,2899.1 1204.1,2872.9 1210.5,2927.2 1215.6,2899.7 1221.4,2926.6 1232.9,2876.1 1244.4,2906.8 1261.7,2865.2 1267.4,2883.8 1273.2,2851.8 1284.7,2895.9 1289.8,2843.5 1296.2,2839.0 1301.9,2879.3 1307.7,2821.6 1313.4,2856.1 1319.2,2816.5 1325.6,2809.4 1331.3,2796.0 1336.4,2761.5 1342.2,2781.3 1349.2,2774.3 1353.7,2739.7 1359.5,2725.0 1365.9,2721.2 1371.6,2707.8 1378.0,2718.6 1383.8,2718.0 1388.2,2692.4 1394.0,2711.6 1401.0,2718.6 1406.1,2733.4 1407.4,2748.7 1410.0,2798.6 1411.3,2829.3 1417.0,2865.1 1420.2,2908.5 1422.8,2938.0 1426.2,2950.0 1429.6,2984.2 1431.8,3018.3 1433.9,3048.2 1435.6,3073.8 1437.8,3103.7 1439.9,3133.6 1443.3,3155.0 1446.7,3170.0 1450.0,3201.9 1452.4,3225.2 1456.1,3243.9 1458.9,3262.5 1462.6,3285.8 1469.1,3293.2 1474.7,3304.4 1480.3,3327.7 1485.9,3335.2 1493.4,3336.1 1498.0,3352.9 1504.1,3331.4 1509.2,3348.2 1515.7,3348.7 1520.9,3334.2 1526.8,3339.9 1532.9,3332.4 1539.0,3332.4 1545.1,3344.7 1549.9,3351.4 1554.7,3353.5 1560.8,3350.1 1566.9,3337.9 1573.0,3363.0 1578.4,3346.7 1584.5,3334.5 1590.0,3346.0 1596.1,3346.7 1601.5,3354.8 1607.0,3355.5 1613.8,3361.0 1624.6,3360.3 1636.2,3348.7 1642.3,3361.6 1648.4,3346.0 1654.5,3353.5 1660.0,3354.2 1668.1,3361.6 1672.2,3362.3" fill="none" stroke="#000" stroke-width="3.5" stroke-linejoin="round"/>
<path d="M398.8 2832.1L399.0 2832.1L399.1 2832.1L399.3 2832.1L399.9 2832.1L401.2 2832.0L403.2 2831.8L405.7 2831.7M424.2 2830.1L425.1 2830.0L429.8 2829.0L434.4 2827.7L435.5 2827.3M452.7 2820.3L453.3 2820.0L458.0 2818.0L462.6 2816.0L463.4 2815.5M479.9 2807.7L480.8 2807.3L485.3 2805.6L489.7 2804.3L491.0 2803.9M509.5 2801.0L511.9 2800.9L517.1 2801.2L521.2 2801.9M539.4 2805.2L539.7 2805.2L545.2 2805.6L550.4 2805.4L551.3 2805.3M569.6 2802.5L570.5 2802.4L575.5 2802.0L580.5 2802.0L581.6 2802.0M600.0 2803.5L600.8 2803.6L605.8 2803.9L610.9 2804.2L611.7 2804.2M630.2 2804.8L631.2 2804.7L636.0 2804.0L640.6 2802.8L641.4 2802.4M657.2 2794.8L657.8 2794.4L662.1 2792.1L666.3 2789.8L667.3 2789.3M682.4 2780.1L683.0 2779.7L686.7 2776.8L690.0 2773.9L691.4 2772.5M703.4 2758.1L705.3 2755.7L710.8 2748.6L710.9 2748.4M722.3 2733.2L724.5 2730.2L729.3 2723.8M740.4 2709.0L743.9 2704.5L747.7 2699.8M760.2 2685.5L760.9 2684.7L764.1 2681.2L767.6 2677.5L768.2 2676.9M781.1 2663.6L781.7 2663.1L785.5 2659.7L789.5 2656.5L790.2 2655.9M805.8 2645.0L806.5 2644.6L811.1 2642.1L815.8 2639.9L816.7 2639.5M835.1 2633.2L835.9 2633.0L840.9 2631.6L845.7 2630.4L846.5 2630.2M864.5 2627.1L865.2 2627.0L870.1 2626.5L875.3 2626.1L876.4 2626.0M895.4 2625.8L896.3 2625.9L901.2 2626.5L906.0 2627.7L906.9 2628.0M923.3 2634.9L923.9 2635.3L928.3 2637.4L932.7 2639.7L933.5 2640.2M949.0 2649.3L949.7 2649.7L954.2 2651.7L958.9 2653.4L959.9 2653.7M978.1 2658.1L978.8 2658.3L983.6 2659.8L987.9 2661.3L989.0 2661.6M1004.9 2668.8L1009.5 2671.9L1014.5 2675.7M1029.0 2687.6L1032.9 2690.9L1037.8 2695.3M1051.3 2707.6L1055.5 2711.5L1060.0 2716.2M1072.1 2731.8L1072.9 2733.0L1075.7 2737.1L1078.5 2741.3L1078.9 2742.0M1088.2 2757.7L1088.5 2758.3L1091.0 2762.6L1093.6 2767.1L1094.2 2768.1M1103.6 2784.6L1103.9 2785.2L1106.4 2789.7L1108.8 2794.3L1109.2 2795.2M1117.6 2811.7L1117.9 2812.4L1120.2 2817.0L1122.4 2821.6L1122.8 2822.5M1130.6 2839.8L1130.9 2840.5L1132.9 2845.1L1135.0 2849.7L1135.4 2850.5M1142.9 2867.4L1143.2 2868.1L1145.4 2872.6L1147.5 2877.1L1147.9 2878.1M1155.8 2894.3L1156.2 2895.0L1158.8 2899.2L1161.5 2903.3L1162.1 2904.2M1173.4 2917.8L1174.1 2918.4L1177.9 2921.2L1182.2 2923.5L1183.3 2924.0M1201.4 2928.8L1202.3 2928.9L1207.3 2929.5L1212.3 2929.9L1213.3 2929.9M1231.5 2928.7L1232.3 2928.5L1237.0 2927.2L1241.4 2925.5L1242.3 2924.9M1256.8 2915.2L1257.4 2914.8L1261.3 2911.9L1265.2 2909.0L1266.1 2908.4M1279.9 2897.2L1280.5 2896.7L1284.0 2893.4L1287.5 2889.8L1288.2 2889.0M1299.9 2874.9L1300.5 2874.2L1303.5 2870.3L1306.5 2866.3L1307.3 2865.2M1318.7 2848.7L1319.2 2848.0L1320.3 2846.6L1320.7 2846.3L1320.7 2846.6L1320.7 2846.8L1321.1 2846.3L1322.0 2844.6L1323.6 2841.4L1324.7 2839.2M1333.0 2822.4L1333.2 2821.9L1335.5 2817.1L1337.7 2812.6L1338.2 2811.8M1346.1 2795.4L1346.3 2794.9L1348.3 2790.3L1350.3 2785.5L1350.7 2784.5M1357.3 2766.5L1357.6 2765.7L1359.5 2760.8L1361.3 2756.1L1361.6 2755.3M1368.3 2738.3L1368.5 2737.8L1370.3 2733.1L1372.2 2728.3L1372.5 2727.3M1379.4 2709.3L1379.7 2708.5L1381.6 2703.7L1383.6 2698.8L1383.8 2698.2M1390.7 2681.8L1391.5 2680.1L1393.1 2676.8L1394.4 2674.1L1395.5 2671.8L1396.3 2670.4M1403.4 2687.0L1403.7 2689.0L1404.6 2693.7L1405.5 2698.4L1405.7 2699.8M1408.9 2718.3L1409.0 2719.0L1409.7 2724.1L1410.4 2729.2L1410.5 2730.2M1412.5 2748.6L1412.6 2749.4L1413.2 2754.5L1413.8 2759.5L1413.9 2760.5M1416.3 2778.8L1416.4 2779.5L1417.0 2784.5L1417.6 2789.5L1417.7 2790.5M1419.7 2808.9L1419.8 2809.5L1420.2 2814.6L1420.5 2819.6L1420.6 2820.6M1421.4 2838.8L1421.5 2839.6L1421.7 2844.6L1422.1 2849.7L1422.2 2850.5M1423.6 2869.2L1423.7 2870.0L1424.0 2875.0L1424.4 2880.0L1424.5 2881.0M1425.7 2899.7L1425.7 2899.8L1426.0 2905.3L1426.2 2911.4M1426.9 2929.9L1427.0 2931.5L1427.2 2938.3L1427.4 2941.9M1428.3 2960.6L1428.5 2964.9L1428.9 2971.5L1428.9 2972.6M1430.0 2991.3L1430.3 2996.1L1430.7 3001.8L1430.8 3003.0M1432.0 3021.5L1432.2 3023.6L1432.5 3028.7L1432.8 3033.2M1434.1 3051.7L1434.2 3052.7L1434.5 3056.9L1434.7 3061.0L1434.9 3063.7M1436.2 3082.1L1436.3 3083.4L1436.7 3088.5L1437.1 3093.6L1437.1 3093.8M1438.4 3112.5L1438.5 3114.0L1438.9 3119.2L1439.2 3124.2M1440.7 3142.9L1440.9 3144.7L1441.2 3148.0L1441.6 3151.4L1442.0 3154.6M1444.2 3173.2L1444.4 3174.6L1444.9 3179.0L1445.4 3183.7L1445.6 3184.9M1447.6 3203.5L1447.7 3204.4L1448.2 3209.5L1448.7 3214.5L1448.8 3215.2M1450.5 3233.7L1450.5 3234.3L1451.0 3239.3L1451.5 3244.3L1451.6 3245.4M1453.6 3263.7L1453.7 3264.4L1454.2 3269.5L1454.7 3274.6L1454.8 3275.7M1456.8 3294.3L1456.9 3295.1L1457.5 3300.2L1458.1 3305.2L1458.2 3306.0M1460.8 3324.6L1460.9 3325.1L1461.7 3330.0L1462.7 3335.1L1462.9 3336.1M1466.8 3354.2L1467.1 3355.6L1468.2 3359.6L1469.2 3362.8L1470.2 3365.4M1478.2 3381.5L1478.5 3382.0L1479.4 3383.5L1480.3 3385.1L1481.2 3386.7L1482.2 3388.3L1483.3 3389.7L1484.5 3391.0L1485.0 3391.4M1503.0 3397.5L1504.0 3397.5L1506.0 3397.6L1508.1 3397.7L1510.4 3397.7L1512.8 3397.7L1514.9 3397.6L1515.0 3397.6" fill="none" stroke="#f00" stroke-width="4.3" stroke-linecap="round" stroke-linejoin="round"/>
</g>
<g font-size="41" stroke="#000" stroke-width="0.4" font-family="'Liberation Sans', Arial, sans-serif"><text transform="translate(398.0,3458.2) scale(1,1.07)" text-anchor="middle">400</text><text transform="translate(653.3,3458.2) scale(1,1.07)" text-anchor="middle">600</text><text transform="translate(908.6,3458.2) scale(1,1.07)" text-anchor="middle">800</text><text transform="translate(1163.9,3458.2) scale(1,1.07)" text-anchor="middle">1000</text><text transform="translate(1419.2,3458.2) scale(1,1.07)" text-anchor="middle">1200</text><text transform="translate(1674.5,3458.2) scale(1,1.07)" text-anchor="middle">1400</text><text transform="translate(369.6,3404.6) scale(1,1.07)" text-anchor="end">0</text><text transform="translate(369.6,3160.9) scale(1,1.07)" text-anchor="end">20</text><text transform="translate(369.6,2917.3) scale(1,1.07)" text-anchor="end">40</text><text transform="translate(369.6,2673.7) scale(1,1.07)" text-anchor="end">60</text><text transform="translate(369.6,2430.0) scale(1,1.07)" text-anchor="end">80</text></g>
<text transform="translate(271.9,3221.3) rotate(-90) scale(1,1.03)" font-size="57.8" stroke="#000" stroke-width="0.3" font-family="'Liberation Sans', Arial, sans-serif">X-ray yield [photons/s/keV]</text>
<text transform="translate(871.3,3538.8) scale(1,1.03)" font-size="57.7" stroke="#000" stroke-width="0.3" font-family="'Liberation Sans', Arial, sans-serif">Energy [keV]</text>
<g font-size="108" font-family="'Liberation Sans', Arial, sans-serif"><text x="18.4" y="2492.3">(</text><text x="53.8" y="2492.3">c</text><text x="114.6" y="2492.3">)</text></g>
<rect x="481.9" y="2995.9" width="378.8" height="167.4" fill="#000"/>
<rect x="468.9" y="2982.9" width="378.8" height="167.4" fill="#fff" stroke="#000" stroke-width="2"/>
<g font-size="41" stroke="#000" stroke-width="0.15" font-family="'Liberation Sans', Arial, sans-serif"><text transform="translate(475.9,3024.2) scale(1,1.03)">Electron bunch #10</text><text transform="translate(579.0,3079.9) scale(1,1.03)">Measurement</text><text transform="translate(579.0,3134.8) scale(1,1.03)">Calculation</text></g>
<path d="M473.4 3066.8H568.6" stroke="#000" stroke-width="3"/>
<path d="M474.0 3122.1H566.9" stroke="#f00" stroke-width="4.3" stroke-linecap="round" stroke-dasharray="12.4 18"/>
</g>
</svg></body></html>
